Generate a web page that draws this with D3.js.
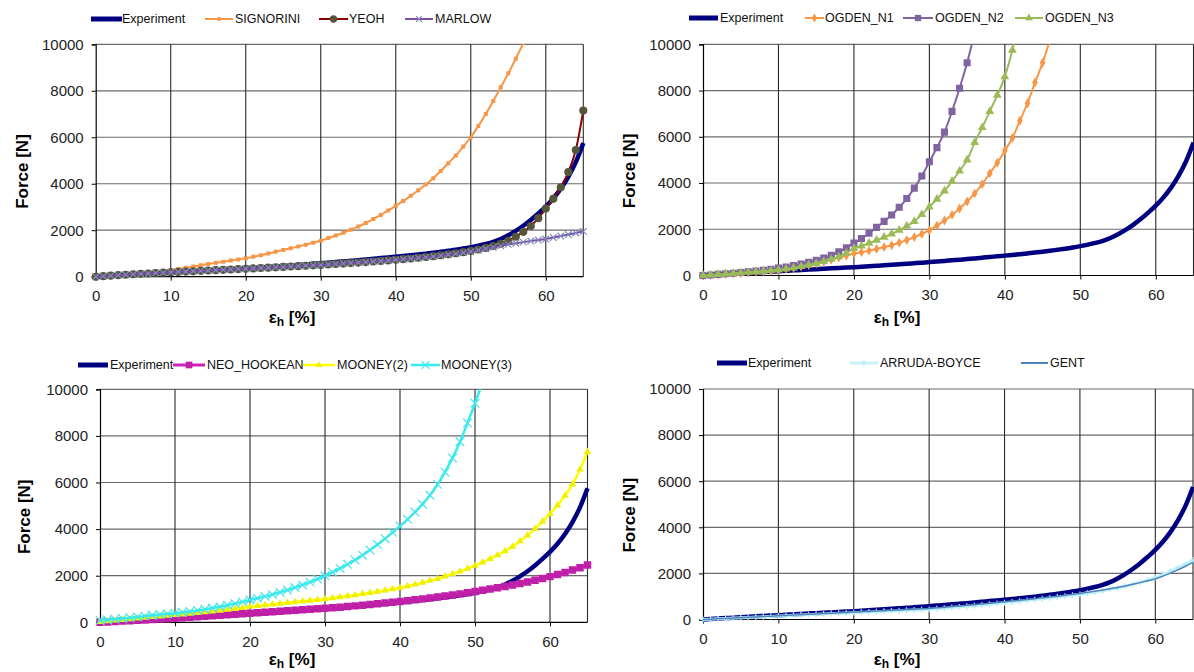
<!DOCTYPE html>
<html>
<head>
<meta charset="utf-8">
<script src="https://cdn.jsdelivr.net/npm/d3@7"></script>
<style>
  body { margin: 0; background: #fff; }
  svg { font-family: "Liberation Sans", Arial, sans-serif; }
</style>
</head>
<body>
<div class="chart"></div>
<script>
///////////////////////////////////////////////////
//  Data (force [N] at strain 0..65 %)
///////////////////////////////////////////////////

const strain = [0,1,2,3,4,5,6,7,8,9,10,11,12,13,14,15,16,17,18,19,20,21,22,23,24,25,26,27,28,29,30,
  31,32,33,34,35,36,37,38,39,40,41,42,43,44,45,46,47,48,49,50,51,52,53,54,55,56,57,58,59,60,61,62,63,64,65];

const experiment = [0,20,40,60,80,100,118,136,153,170,187,205,222,240,257,275,292,309,326,343,360,
  380,400,420,440,462,484,507,530,555,580,605,630,657,683,710,740,770,800,830,860,
  890,922,955,990,1030,1070,1115,1160,1212,1270,1335,1410,1500,1620,1780,1970,2190,2440,2720,3020,
  3370,3790,4300,4930,5750];

const signorini = [0,25,50,80,105,130,155,180,210,245,285,330,380,435,490,545,595,645,695,742,790,
  855,925,995,1070,1150,1225,1300,1380,1465,1550,1660,1770,1890,2020,2155,2310,2480,2660,2850,3050,
  3260,3480,3720,3970,4240,4550,4880,5220,5600,6000,6480,7000,7560,8150,8750,9380,10050,10800];

const yeoh = [0,22,44,65,85,104,122,140,157,173,189,205,220,236,251,266,281,296,311,326,341,
  356,372,388,404,420,437,454,471,489,507,526,545,565,586,607,629,652,676,701,727,
  755,784,815,848,883,921,962,1007,1056,1110,1170,1240,1320,1420,1540,1720,1930,2180,2520,2930,
  3350,3850,4500,5450,7150];

const marlow = [0,22,44,65,85,104,122,140,157,173,189,205,220,236,251,266,281,296,311,326,341,
  356,372,388,404,420,437,454,471,489,507,526,545,565,586,607,629,652,676,701,727,
  753,780,808,838,870,905,945,988,1033,1080,1140,1200,1262,1325,1390,1440,1488,1533,1577,1620,
  1683,1748,1815,1882,1950];

const ogdenN1 = [0,22,44,66,88,110,133,157,180,205,240,285,335,390,450,520,600,680,770,860,950,
  1010,1075,1150,1230,1310,1420,1530,1660,1800,1960,2160,2380,2620,2900,3200,3550,3950,4420,4880,5400,
  5950,6700,7450,8350,9200,10200,11300];

const ogdenN2 = [0,25,50,75,100,130,160,190,225,265,320,370,430,500,570,660,760,870,1030,1200,1400,
  1600,1830,2080,2340,2620,2950,3330,3780,4300,4920,5530,6200,7100,8100,9200,10500,11800];

const ogdenN3 = [0,22,45,68,92,115,140,165,190,215,245,285,330,390,455,525,610,700,810,970,1170,
  1280,1400,1530,1660,1800,1960,2140,2340,2640,2970,3300,3660,4080,4520,5000,5750,6400,7100,7800,8600,
  9750,11200];

const neoHookean = [0,17,34,51,68,85,102,119,136,153,170,192,214,236,258,280,302,324,346,368,390,
  410,430,452,474,496,516,538,560,580,600,625,650,678,705,735,765,795,825,858,890,
  928,966,1005,1045,1085,1130,1175,1220,1270,1320,1372,1425,1480,1540,1600,1665,1730,1800,1880,1960,
  2050,2140,2240,2340,2460];

const mooney2 = [20,50,80,110,140,170,200,230,260,290,315,345,375,405,435,470,505,540,580,625,670,
  703,736,769,802,835,868,901,934,967,1000,1040,1082,1126,1172,1220,1268,1318,1370,1424,1480,
  1550,1625,1705,1785,1870,1970,2075,2185,2305,2430,2570,2720,2880,3060,3250,3480,3730,4010,4320,4650,
  5020,5440,5920,6560,7320];

const mooney3 = [80,108,136,166,198,232,266,300,336,362,390,427,467,511,559,612,670,733,802,877,960,
  1033,1112,1196,1287,1385,1490,1603,1725,1856,1997,2149,2312,2488,2677,2880,3099,3335,3588,3861,4130,
  4420,4730,5070,5450,5920,6450,7050,7750,8550,9400,10300,11300];

const arrudaBoyce = [0,15,30,45,60,75,90,105,120,135,150,165,180,195,210,225,240,255,270,285,300,
  313,326,340,354,368,382,396,410,422,435,462,489,516,543,570,600,630,662,694,725,
  758,792,826,860,895,932,970,1008,1047,1087,1140,1195,1250,1310,1370,1440,1520,1610,1710,1820,
  1950,2090,2240,2400,2580];

const gent = [0,16,32,48,64,80,96,112,128,144,160,176,192,208,224,240,256,272,288,304,320,
  335,350,366,383,400,415,430,446,462,478,505,532,560,588,616,645,675,705,736,768,
  801,835,869,904,940,976,1013,1051,1090,1130,1177,1226,1278,1332,1390,1455,1525,1600,1680,1760,
  1880,2010,2150,2310,2480];

const xTicks = [0, 10, 20, 30, 40, 50, 60];
const yTicks = [0, 2000, 4000, 6000, 8000, 10000];

///////////////////////////////////////////////////
//  Styles
///////////////////////////////////////////////////

const navy = '#000080';

const expStyle = { name: 'Experiment', values: experiment, color: navy, width: 4.5 };

const panels = [
  {
    x0: 95.7, x1: 583.3, y0: 276.7, y1: 44.3, titleX: 292, titleY: 323, forceX: 22,
    legendY: 19,
    series: [
      { ...expStyle, legend: [91, 122, 122] },
      { name: 'SIGNORINI', values: signorini, color: '#F79646', width: 2,
        marker: d3.symbolSquare, size: 16, fill: '#F79646', legend: [205, 233, 235] },
      { name: 'YEOH', values: yeoh, color: '#8B0000', width: 2,
        marker: d3.symbolCircle, size: 52, fill: '#56553A', legend: [319, 348, 349] },
      { name: 'MARLOW', values: marlow, color: '#7B4EA8', width: 2,
        marker: d3.symbolTimes, size: 30, stroke: '#7E8CB8', legend: [405, 433, 435] }
    ]
  },
  {
    x0: 703, x1: 1193.5, y0: 275.5, y1: 44.3, titleX: 897, titleY: 323, forceX: 629,
    legendY: 18,
    series: [
      { ...expStyle, legend: [689, 718, 720] },
      { name: 'OGDEN_N1', values: ogdenN1, color: '#F79646', width: 2,
        marker: d3.symbolDiamond, size: 28, fill: '#F79646', legend: [805, 824, 825] },
      { name: 'OGDEN_N2', values: ogdenN2, color: '#8064A2', width: 2,
        marker: d3.symbolSquare, size: 50, fill: '#8064A2', legend: [903, 933, 935] },
      { name: 'OGDEN_N3', values: ogdenN3, color: '#9BBB59', width: 2,
        marker: d3.symbolTriangle, size: 34, fill: '#9BBB59', legend: [1015, 1043, 1045] }
    ]
  },
  {
    x0: 100, x1: 587.5, y0: 622.3, y1: 389.3, titleX: 292, titleY: 665, forceX: 24,
    legendY: 365,
    series: [
      { ...expStyle, legend: [78, 108, 110] },
      { name: 'NEO_HOOKEAN', values: neoHookean, color: '#CC22BB', width: 3,
        marker: d3.symbolSquare, size: 56, fill: '#C020A8', legend: [173, 205, 207] },
      { name: 'MOONEY(2)', values: mooney2, color: '#FFFF00', width: 2.5,
        marker: d3.symbolTriangle, size: 24, fill: '#F0F000', legend: [303, 335, 337] },
      { name: 'MOONEY(3)', values: mooney3, color: '#33EEEE', width: 2.5,
        marker: d3.symbolTimes, size: 50, stroke: '#44E4EE', legend: [411, 440, 441] }
    ]
  },
  {
    x0: 703, x1: 1193, y0: 619.5, y1: 389, titleX: 897, titleY: 665, forceX: 629,
    legendY: 363,
    series: [
      { ...expStyle, legend: [717, 747, 748] },
      { name: 'ARRUDA-BOYCE', values: arrudaBoyce, color: '#C4F4FA', width: 3,
        marker: d3.symbolPlus, size: 14, stroke: '#B0ECF6', legend: [850, 878, 880] },
      { name: 'GENT', values: gent, color: '#4F81BD', width: 1.5, legend: [1021, 1048, 1050] }
    ]
  }
];

///////////////////////////////////////////////////
//  Drawing
///////////////////////////////////////////////////

const svg = d3.select('.chart')
  .append('svg')
    .attr('width', 1194)
    .attr('height', 672);

panels.forEach((p, i) => drawPanel(p, i));

function drawPanel(p, idx) {
  const x = d3.scaleLinear().domain([0, 65]).range([p.x0, p.x1]);
  const y = d3.scaleLinear().domain([0, 10000]).range([p.y0, p.y1]);

  const g = svg.append('g');

  // grid
  g.selectAll('.hgrid')
    .data(yTicks.filter(t => t > 0))
    .enter().append('line')
      .attr('x1', p.x0).attr('x2', p.x1)
      .attr('y1', d => y(d)).attr('y2', d => y(d))
      .style('stroke', '#6a6a6a').style('stroke-width', 1.2);

  g.selectAll('.vgrid')
    .data(xTicks.filter(t => t > 0).concat([65]))
    .enter().append('line')
      .attr('x1', d => x(d)).attr('x2', d => x(d))
      .attr('y1', p.y0).attr('y2', p.y1)
      .style('stroke', '#2a2a2a').style('stroke-width', 1.1);

  // axes
  const xAxis = g.append('g')
    .attr('transform', `translate(0,${p.y0})`)
    .call(d3.axisBottom(x).tickValues(xTicks).tickSize(4).tickPadding(10));
  const yAxis = g.append('g')
    .attr('transform', `translate(${p.x0},0)`)
    .call(d3.axisLeft(y).tickValues(yTicks).tickSize(4).tickPadding(8).tickFormat(d3.format('d')));

  [xAxis, yAxis].forEach(a => {
    a.select('.domain').style('stroke', '#000').style('stroke-width', 1.2);
    a.selectAll('.tick line').style('stroke', '#000');
    a.selectAll('.tick text')
      .style('font-size', '15px')
      .style('font-family', '"Liberation Sans", Arial, sans-serif')
      .style('fill', '#222');
  });
  xAxis.select('.domain').attr('d', `M${p.x0},0H${p.x1}`);

  // titles
  g.append('text')
    .attr('transform', `translate(${p.forceX},${(p.y0 + p.y1) / 2 + 11}) rotate(-90)`)
    .attr('text-anchor', 'middle')
    .attr('dy', '0.35em')
    .style('font-size', '17px')
    .style('font-weight', 'bold')
    .text('Force [N]');

  const t = g.append('text')
    .attr('x', p.titleX)
    .attr('y', p.titleY)
    .attr('text-anchor', 'middle')
    .style('font-size', '17px')
    .style('font-weight', 'bold');
  t.append('tspan').text('ε');
  t.append('tspan').attr('dy', 3).style('font-size', '12px').text('h');
  t.append('tspan').attr('dy', -3).text(' [%]');

  // clip
  const clipId = 'clip' + idx;
  svg.append('clipPath').attr('id', clipId)
    .append('rect')
      .attr('x', p.x0 - 6).attr('y', p.y1)
      .attr('width', p.x1 - p.x0 + 12).attr('height', p.y0 - p.y1 + 8);

  const plot = g.append('g').attr('clip-path', `url(#${clipId})`);

  const line = d3.line()
    .x((d, j) => x(strain[j]))
    .y(d => y(d))
    .curve(d3.curveMonotoneX);

  p.series.forEach(s => {
    plot.append('path')
      .datum(s.values)
      .attr('d', line)
      .style('fill', 'none')
      .style('stroke', s.color)
      .style('stroke-width', s.width)
      .style('stroke-linejoin', 'round');

    if (s.marker) {
      const sym = d3.symbol().type(s.marker).size(s.size);
      plot.selectAll(null)
        .data(s.values)
        .enter().append('path')
          .attr('transform', (d, j) => `translate(${x(strain[j])},${y(d)})`)
          .attr('d', sym)
          .style('fill', s.fill || 'none')
          .style('stroke', s.stroke || 'none')
          .style('stroke-width', s.stroke ? 1.2 : 0);
    }

    // legend
    const [lx1, lx2, tx] = s.legend;
    const lg = g.append('g');
    lg.append('line')
      .attr('x1', lx1).attr('x2', lx2)
      .attr('y1', p.legendY).attr('y2', p.legendY)
      .style('stroke', s.color)
      .style('stroke-width', s.name === 'Experiment' ? 5 : Math.max(s.width, 2));
    if (s.marker) {
      lg.append('path')
        .attr('transform', `translate(${(lx1 + lx2) / 2},${p.legendY})`)
        .attr('d', d3.symbol().type(s.marker).size(s.size * 0.8))
        .style('fill', s.fill || 'none')
        .style('stroke', s.stroke || 'none')
        .style('stroke-width', s.stroke ? 1.2 : 0);
    }
    lg.append('text')
      .attr('x', tx)
      .attr('y', p.legendY)
      .attr('dy', '0.35em')
      .style('font-size', '12.5px')
      .style('fill', '#111')
      .text(s.name);
  });
}
</script>
</body>
</html>
